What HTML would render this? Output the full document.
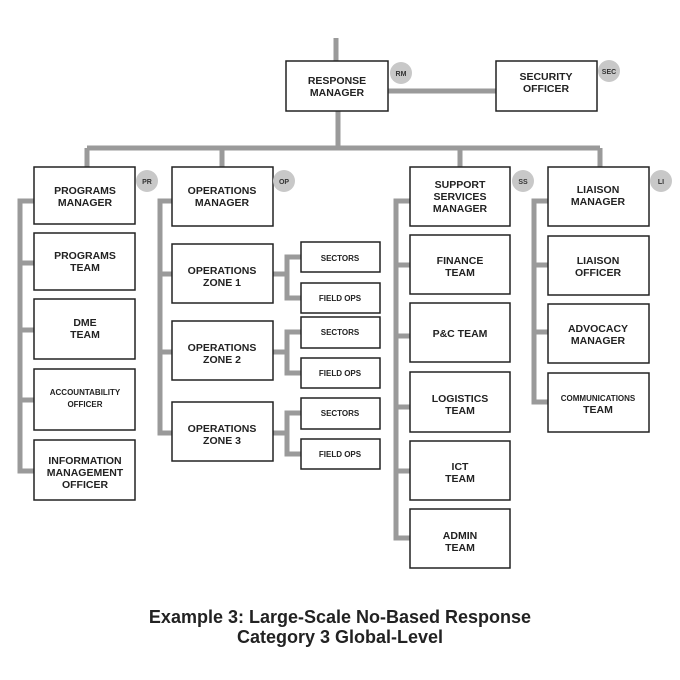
<!DOCTYPE html>
<html><head><meta charset="utf-8"><style>
body{margin:0;background:#fff}
svg{display:block}
.l{stroke:#9a9a9a;stroke-width:5;fill:none}
.b{fill:#fff;stroke:#222;stroke-width:1.5}
.t{font-family:"Liberation Sans",sans-serif;font-weight:bold;font-size:10.5px;fill:#222;text-anchor:middle}
.s{font-size:8px}
.c{fill:#c8c8c8}
.ct{font-family:"Liberation Sans",sans-serif;font-weight:bold;font-size:7px;fill:#333;text-anchor:middle}
.ti{font-family:"Liberation Sans",sans-serif;font-weight:bold;font-size:18px;fill:#222;text-anchor:middle}
</style></head><body>
<svg width="680" height="680" viewBox="0 0 680 680">
<!-- connectors -->
<path class="l" d="M336 38V61 M388 91H496 M338 111V148 M87 148H600 M87 148V167 M222 148V167 M460 148V167 M600 148V167"/>
<path class="l" d="M34 201H20V471H34 M20 263H34 M20 330H34 M20 400H34"/>
<path class="l" d="M172 201H160V433H172 M160 274H172 M160 352H172"/>
<path class="l" d="M273 274H287 M301 257H287V298H301 M273 352H287 M301 332H287V373H301 M273 433H287 M301 413H287V454H301"/>
<path class="l" d="M410 201H396V538H410 M396 265H410 M396 336H410 M396 407H410 M396 471H410"/>
<path class="l" d="M548 201H534V402H548 M534 265H548 M534 332H548"/>
<!-- boxes -->
<rect class="b" x="286" y="61" width="102" height="50"/>
<rect class="b" x="496" y="61" width="101" height="50"/>
<rect class="b" x="34" y="167" width="101" height="57"/>
<rect class="b" x="34" y="233" width="101" height="57"/>
<rect class="b" x="34" y="299" width="101" height="60"/>
<rect class="b" x="34" y="369" width="101" height="61"/>
<rect class="b" x="34" y="440" width="101" height="60"/>
<rect class="b" x="172" y="167" width="101" height="59"/>
<rect class="b" x="172" y="244" width="101" height="59"/>
<rect class="b" x="172" y="321" width="101" height="59"/>
<rect class="b" x="172" y="402" width="101" height="59"/>
<rect class="b" x="301" y="242" width="79" height="30"/>
<rect class="b" x="301" y="283" width="79" height="30"/>
<rect class="b" x="301" y="317" width="79" height="31"/>
<rect class="b" x="301" y="358" width="79" height="30"/>
<rect class="b" x="301" y="398" width="79" height="31"/>
<rect class="b" x="301" y="439" width="79" height="30"/>
<rect class="b" x="410" y="167" width="100" height="59"/>
<rect class="b" x="410" y="235" width="100" height="59"/>
<rect class="b" x="410" y="303" width="100" height="59"/>
<rect class="b" x="410" y="372" width="100" height="60"/>
<rect class="b" x="410" y="441" width="100" height="59"/>
<rect class="b" x="410" y="509" width="100" height="59"/>
<rect class="b" x="548" y="167" width="101" height="59"/>
<rect class="b" x="548" y="236" width="101" height="59"/>
<rect class="b" x="548" y="304" width="101" height="59"/>
<rect class="b" x="548" y="373" width="101" height="59"/>
<!-- circles -->
<circle class="c" cx="401" cy="73" r="11"/><text class="ct" x="401" y="76">RM</text>
<circle class="c" cx="609" cy="71" r="11"/><text class="ct" x="609" y="74">SEC</text>
<circle class="c" cx="147" cy="181" r="11"/><text class="ct" x="147" y="184">PR</text>
<circle class="c" cx="284" cy="181" r="11"/><text class="ct" x="284" y="184">OP</text>
<circle class="c" cx="523" cy="181" r="11"/><text class="ct" x="523" y="184">SS</text>
<circle class="c" cx="661" cy="181" r="11"/><text class="ct" x="661" y="184">LI</text>
<!-- labels -->
<text class="t" x="337" y="84">RESPONSE</text><text class="t" x="337" y="96">MANAGER</text>
<text class="t" x="546" y="80">SECURITY</text><text class="t" x="546" y="92">OFFICER</text>
<text class="t" x="85" y="194">PROGRAMS</text><text class="t" x="85" y="206">MANAGER</text>
<text class="t" x="85" y="259">PROGRAMS</text><text class="t" x="85" y="271">TEAM</text>
<text class="t" x="85" y="326">DME</text><text class="t" x="85" y="338">TEAM</text>
<text class="t s" x="85" y="395">ACCOUNTABILITY</text><text class="t s" x="85" y="407">OFFICER</text>
<text class="t" x="85" y="464">INFORMATION</text><text class="t" x="85" y="476">MANAGEMENT</text><text class="t" x="85" y="488">OFFICER</text>
<text class="t" x="222" y="194">OPERATIONS</text><text class="t" x="222" y="206">MANAGER</text>
<text class="t" x="222" y="274">OPERATIONS</text><text class="t" x="222" y="286">ZONE 1</text>
<text class="t" x="222" y="351">OPERATIONS</text><text class="t" x="222" y="363">ZONE 2</text>
<text class="t" x="222" y="432">OPERATIONS</text><text class="t" x="222" y="444">ZONE 3</text>
<text class="t s" x="340" y="261">SECTORS</text>
<text class="t s" x="340" y="301">FIELD OPS</text>
<text class="t s" x="340" y="335">SECTORS</text>
<text class="t s" x="340" y="376">FIELD OPS</text>
<text class="t s" x="340" y="416">SECTORS</text>
<text class="t s" x="340" y="457">FIELD OPS</text>
<text class="t" x="460" y="188">SUPPORT</text><text class="t" x="460" y="200">SERVICES</text><text class="t" x="460" y="212">MANAGER</text>
<text class="t" x="460" y="264">FINANCE</text><text class="t" x="460" y="276">TEAM</text>
<text class="t" x="460" y="337">P&amp;C TEAM</text>
<text class="t" x="460" y="402">LOGISTICS</text><text class="t" x="460" y="414">TEAM</text>
<text class="t" x="460" y="470">ICT</text><text class="t" x="460" y="482">TEAM</text>
<text class="t" x="460" y="539">ADMIN</text><text class="t" x="460" y="551">TEAM</text>
<text class="t" x="598" y="193">LIAISON</text><text class="t" x="598" y="205">MANAGER</text>
<text class="t" x="598" y="264">LIAISON</text><text class="t" x="598" y="276">OFFICER</text>
<text class="t" x="598" y="332">ADVOCACY</text><text class="t" x="598" y="344">MANAGER</text>
<text class="t s" x="598" y="401">COMMUNICATIONS</text><text class="t" x="598" y="413">TEAM</text>
<text class="ti" x="340" y="623">Example 3: Large-Scale No-Based Response</text>
<text class="ti" x="340" y="643">Category 3 Global-Level</text>
</svg>
</body></html>
